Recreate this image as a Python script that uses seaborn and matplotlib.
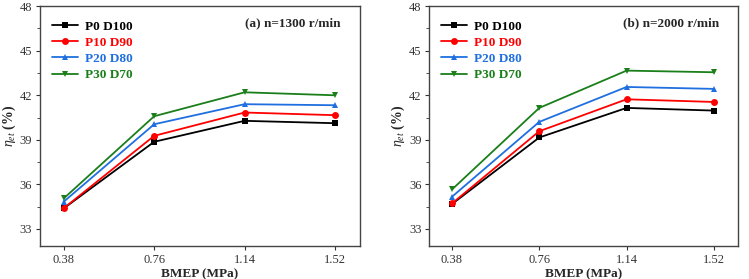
import pandas as pd
import matplotlib.pyplot as plt
import seaborn as sns
from matplotlib.ticker import MultipleLocator

bmep = [0.38, 0.76, 1.14, 1.52]
blends = ['P0 D100', 'P10 D90', 'P20 D80', 'P30 D70']

# panel (a) n=1300 r/min
eta_1300 = {
    'P0 D100': [34.39, 38.87, 40.28, 40.12],
    'P10 D90': [34.40, 39.27, 40.84, 40.66],
    'P20 D80': [34.84, 40.05, 41.40, 41.33],
    'P30 D70': [35.06, 40.59, 42.20, 42.00],
}
# panel (b) n=2000 r/min
eta_2000 = {
    'P0 D100': [34.68, 39.16, 41.15, 40.97],
    'P10 D90': [34.72, 39.58, 41.73, 41.55],
    'P20 D80': [35.17, 40.21, 42.56, 42.43],
    'P30 D70': [35.66, 41.15, 43.66, 43.55],
}

colors = {'P0 D100': '#000000', 'P10 D90': '#ff0000', 'P20 D80': '#1f6fe0', 'P30 D70': '#1a7f1a'}
markers = {'P0 D100': 's', 'P10 D90': 'o', 'P20 D80': '^', 'P30 D70': 'v'}


def to_long(d):
    rows = []
    for b in blends:
        for x, y in zip(bmep, d[b]):
            rows.append({'BMEP': x, 'eta': y, 'blend': b})
    return pd.DataFrame(rows)


sns.set_style("ticks")
plt.rcParams['font.family'] = ['Liberation Serif', 'DejaVu Serif']
plt.rcParams['mathtext.fontset'] = 'custom'
plt.rcParams['mathtext.rm'] = 'Liberation Serif'
plt.rcParams['mathtext.it'] = 'Liberation Serif:italic'
plt.rcParams['mathtext.bf'] = 'Liberation Serif:bold'

fig = plt.figure(figsize=(7.49, 2.79), dpi=100)
ax1 = fig.add_axes([0.0534, 0.118, 0.4272, 0.86])
ax2 = fig.add_axes([0.5728, 0.118, 0.4125, 0.86])

for ax, data, label in [(ax1, eta_1300, '(a) n=1300 r/min'), (ax2, eta_2000, '(b) n=2000 r/min')]:
    df = to_long(data)
    sns.lineplot(data=df, x='BMEP', y='eta', hue='blend', style='blend',
                 palette=colors, markers=markers, dashes=False, markersize=5,
                 markeredgewidth=0, linewidth=1.3, ax=ax, legend=False)
    ax.set_xlim(0.28, 1.625)
    ax.set_ylim(31.85, 48)
    ax.set_xticks(bmep)
    ax.set_xticklabels(['0.38', '0.76', '1.14', '1.52'])
    ax.yaxis.set_major_locator(MultipleLocator(3))
    ax.yaxis.set_minor_locator(MultipleLocator(1.5))
    ax.tick_params(axis='both', which='major', direction='out', length=3, width=0.8,
                   labelsize=9, colors='#333333', labelcolor='#333333', pad=2.5)
    ax.tick_params(axis='y', which='minor', direction='out', length=2, width=0.6, colors='#333333')
    for s in ax.spines.values():
        s.set_color('#444444')
        s.set_linewidth(1.0)
    ax.set_xlabel('BMEP (MPa)', fontsize=9.5, fontweight='bold', labelpad=2)
    ax.set_ylabel(r'$\eta_{et}$ (%)', fontsize=10, fontweight='bold', labelpad=1)

    # legend with coloured text
    handles = [plt.Line2D([], [], color=colors[b], marker=markers[b], markersize=5,
                          markeredgewidth=0, linewidth=1.3) for b in blends]
    leg = ax.legend(handles, blends, loc='upper left', frameon=False,
                    prop={'weight': 'bold', 'size': 9.5}, handlelength=2.0,
                    handletextpad=0.5, labelspacing=0.3, borderaxespad=0.5,
                    bbox_to_anchor=(0.0, 0.99))
    for t, b in zip(leg.get_texts(), blends):
        t.set_color(colors[b])

    ax.text(0.94, 0.93, label, transform=ax.transAxes, ha='right', va='center',
            fontsize=9.5, fontweight='bold')

fig.savefig('out.png', dpi=100)
plt.close(fig)
